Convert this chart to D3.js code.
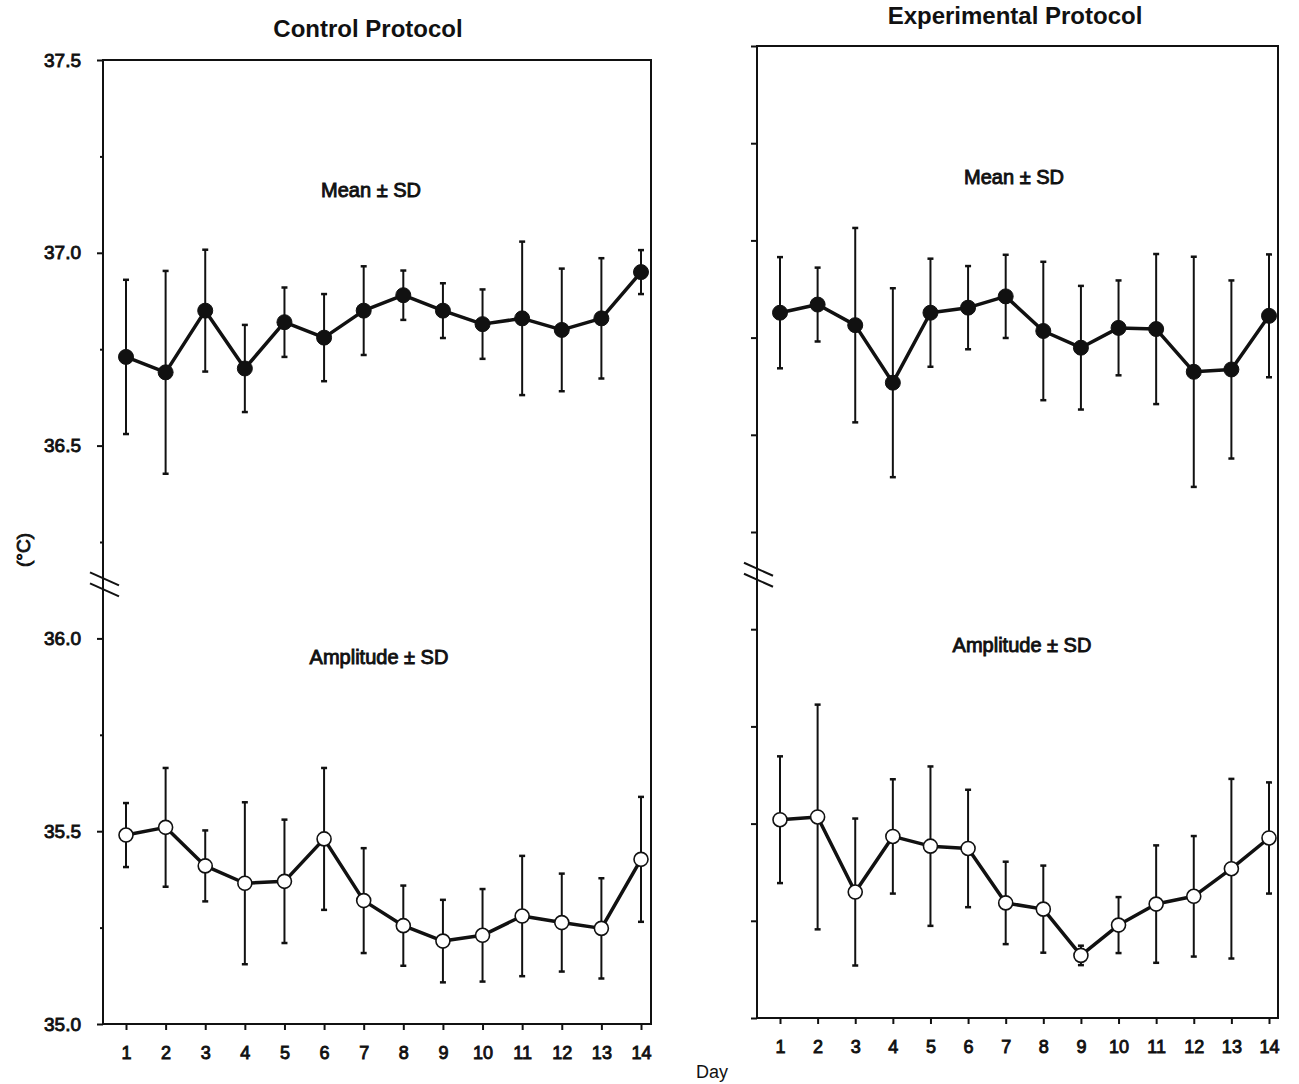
<!DOCTYPE html>
<html>
<head>
<meta charset="utf-8">
<script src="https://cdn.jsdelivr.net/npm/d3@7"></script>
<style>
  body { margin: 0; background: #fff; }
  svg { display: block; }
  text { font-family: "Liberation Sans", Arial, sans-serif; fill: #111; }
  .med { stroke: #111; stroke-width: 0.9px; }
</style>
</head>
<body>
<svg id="chart" width="1299" height="1084"></svg>
<script>
// ---------------- data ----------------
const days = [1,2,3,4,5,6,7,8,9,10,11,12,13,14];

const controlMean   = [36.73,36.69,36.85,36.70,36.82,36.78,36.85,36.89,36.85,36.815,36.83,36.80,36.83,36.95];
const controlMeanSD = [0.20,0.263,0.158,0.113,0.09,0.113,0.115,0.064,0.071,0.09,0.199,0.159,0.156,0.057];
const controlAmp    = [35.49,35.51,35.41,35.365,35.37,35.48,35.32,35.255,35.215,35.23,35.28,35.263,35.248,35.427];
const controlAmpSD  = [0.083,0.154,0.092,0.21,0.16,0.184,0.136,0.104,0.107,0.12,0.156,0.127,0.13,0.162];

const expMean   = [36.814,36.835,36.782,36.634,36.814,36.827,36.856,36.767,36.724,36.775,36.772,36.662,36.668,36.806];
const expMeanSD = [0.143,0.095,0.25,0.243,0.139,0.107,0.107,0.178,0.159,0.122,0.193,0.296,0.229,0.158];
const expAmp    = [35.51,35.517,35.324,35.467,35.442,35.436,35.296,35.28,35.161,35.239,35.293,35.313,35.384,35.463];
const expAmpSD  = [0.163,0.289,0.189,0.147,0.205,0.151,0.106,0.112,0.025,0.072,0.151,0.155,0.231,0.143];

const yTickValues = [35,35.25,35.5,35.75,36,36.25,36.5,36.75,37,37.25,37.5];
const yTickLabels = {35:"35.0",35.5:"35.5",36:"36.0",36.5:"36.5",37:"37.0",37.5:"37.5"};
const titles = ["Control Protocol", "Experimental Protocol"];
const seriesLabels = ["Mean \u00B1 SD", "Amplitude \u00B1 SD"];
const yAxisTitle = "(\u00B0C)";
const xAxisTitle = "Day";
const breakValue = 36.14;

// ---------------- layout ----------------
const svg = d3.select("#chart");

const panels = [
  { title: titles[0], left: 103, right: 651, top: 60, bottom: 1024,
    x1: 126, x14: 641, titleX: 368, titleY: 37, labels: true,
    meanLbl: [371, 197], ampLbl: [379, 664],
    mean: controlMean, meanSD: controlMeanSD, amp: controlAmp, ampSD: controlAmpSD },
  { title: titles[1], left: 757, right: 1278, top: 46, bottom: 1018,
    x1: 780, x14: 1269, titleX: 1015, titleY: 24, labels: false,
    meanLbl: [1014, 184], ampLbl: [1022, 652],
    mean: expMean, meanSD: expMeanSD, amp: expAmp, ampSD: expAmpSD }
];

panels.forEach(p => {
  const x = d3.scaleLinear().domain([1, 14]).range([p.x1, p.x14]);
  const y = d3.scaleLinear().domain([35, 37.5]).range([p.bottom, p.top]);
  const g = svg.append("g");

  // frame
  g.append("rect")
    .attr("x", p.left).attr("y", p.top)
    .attr("width", p.right - p.left).attr("height", p.bottom - p.top)
    .attr("fill", "none").attr("stroke", "#111").attr("stroke-width", 2);

  // y axis
  const yAxis = d3.axisLeft(y)
    .tickValues(yTickValues)
    .tickSize(6)
    .tickPadding(16)
    .tickFormat(d => p.labels ? (yTickLabels[d] || "") : "");
  const ya = g.append("g").attr("transform", `translate(${p.left},0)`).call(yAxis);
  ya.select(".domain").remove();
  ya.selectAll(".tick line").attr("stroke", "#111").attr("stroke-width", 2)
    .attr("x2", d => (yTickLabels[d] !== undefined || !p.labels) ? -6 : -3);
  ya.selectAll(".tick text").attr("class", "med").style("font-size", "19px").attr("fill", "#111");

  // x axis
  const xAxis = d3.axisBottom(x).tickValues(days).tickSize(6).tickPadding(16).tickFormat(d3.format("d"));
  const xa = g.append("g").attr("transform", `translate(0,${p.bottom})`).call(xAxis);
  xa.select(".domain").remove();
  xa.selectAll(".tick line").attr("stroke", "#111").attr("stroke-width", 2);
  xa.selectAll(".tick text").attr("class", "med").style("font-size", "18px").attr("fill", "#111");

  // axis break marks
  const by = y(breakValue);
  [-6, 5].forEach(dy => {
    g.append("line")
      .attr("x1", p.left - 13).attr("y1", by + dy - 6)
      .attr("x2", p.left + 16).attr("y2", by + dy + 7)
      .attr("stroke", "#111").attr("stroke-width", 2);
  });

  // titles / labels
  g.append("text").attr("x", p.titleX).attr("y", p.titleY)
    .attr("text-anchor", "middle").style("font-weight", "bold").style("font-size", "24px")
    .text(p.title);
  g.append("text").attr("x", p.meanLbl[0]).attr("y", p.meanLbl[1])
    .attr("text-anchor", "middle").attr("class", "med").style("font-size", "20px")
    .text(seriesLabels[0]);
  g.append("text").attr("x", p.ampLbl[0]).attr("y", p.ampLbl[1])
    .attr("text-anchor", "middle").attr("class", "med").style("font-size", "20px")
    .text(seriesLabels[1]);

  // series
  const drawSeries = (vals, sds, filled) => {
    const data = days.map((d, i) => ({ d, v: vals[i], sd: sds[i] }));
    const eb = g.append("g");
    eb.selectAll("line.eb").data(data).join("line")
      .attr("x1", o => x(o.d)).attr("x2", o => x(o.d))
      .attr("y1", o => y(o.v - o.sd)).attr("y2", o => y(o.v + o.sd))
      .attr("stroke", "#111").attr("stroke-width", 2);
    [-1, 1].forEach(s => {
      eb.append("g").selectAll("line").data(data).join("line")
        .attr("x1", o => x(o.d) - 3).attr("x2", o => x(o.d) + 3)
        .attr("y1", o => y(o.v + s * o.sd))
        .attr("y2", o => y(o.v + s * o.sd))
        .attr("stroke", "#111").attr("stroke-width", 2.5);
    });
    g.append("path").datum(data)
      .attr("fill", "none").attr("stroke", "#111").attr("stroke-width", 3.5)
      .attr("stroke-linejoin", "round")
      .attr("d", d3.line().x(o => x(o.d)).y(o => y(o.v)));
    g.append("g").selectAll("circle").data(data).join("circle")
      .attr("cx", o => x(o.d)).attr("cy", o => y(o.v))
      .attr("r", filled ? 7.5 : 7)
      .attr("fill", filled ? "#111" : "#fff")
      .attr("stroke", "#111").attr("stroke-width", filled ? 1 : 1.6);
  };
  drawSeries(p.mean, p.meanSD, true);
  drawSeries(p.amp, p.ampSD, false);
});

// shared axis titles
svg.append("text").attr("transform", "translate(30,550) rotate(-90)")
  .attr("text-anchor", "middle").attr("class", "med").style("font-size", "19px").text(yAxisTitle);
svg.append("text").attr("x", 712).attr("y", 1078)
  .attr("text-anchor", "middle").style("font-size", "18px").text(xAxisTitle);
</script>
</body>
</html>
